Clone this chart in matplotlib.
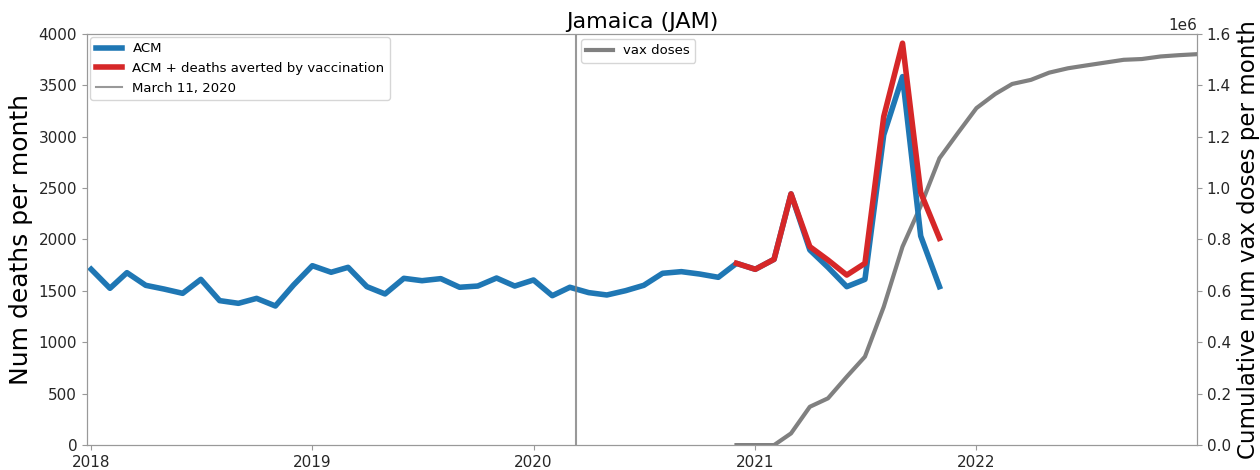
import pandas as pd
import matplotlib
matplotlib.use('Agg')
import matplotlib.pyplot as plt

# monthly all-cause mortality, Jan 2018 .. Nov 2021
acm = [1710, 1525, 1677, 1554, 1518, 1476, 1612, 1405, 1379, 1427, 1353, 1557,
       1745, 1681, 1729, 1541, 1470, 1622, 1599, 1619, 1535, 1547, 1625, 1547,
       1606, 1453, 1535, 1483, 1460, 1502, 1554, 1671, 1687, 1664, 1632, 1768,
       1710, 1807, 2443, 1898, 1729, 1541, 1612, 3017, 3584, 2034, 1541]
acm_dates = pd.date_range('2018-01-01', periods=len(acm), freq='MS')

# ACM + deaths averted, Dec 2020 .. Nov 2021
acm_averted = [1768, 1710, 1807, 2443, 1930, 1800, 1654, 1768, 3195, 3909, 2456, 2011]
averted_dates = pd.date_range('2020-12-01', periods=len(acm_averted), freq='MS')

# cumulative vaccine doses, Dec 2020 .. Jan 2023
vax = [0, 0, 0, 45500, 149000, 182000, 266000, 344000, 538000, 772000, 930000,
       1116000, 1213000, 1311000, 1366000, 1405000, 1421000, 1449000, 1466000,
       1477000, 1488000, 1499000, 1502000, 1512000, 1517000, 1521000]
vax_dates = pd.date_range('2020-12-01', periods=len(vax), freq='MS')

march11 = pd.Timestamp('2020-03-11')
x0, x1 = pd.Timestamp('2017-12-25'), pd.Timestamp('2022-12-31')

fig = plt.figure(figsize=(12.6, 4.7), dpi=100)
ax = fig.add_axes([0.069, 0.053, 0.881, 0.875])
ax2 = ax.twinx()

ax.plot(acm_dates, acm, color='tab:blue', lw=4, label='ACM')
ax.plot(averted_dates, acm_averted, color='tab:red', lw=4,
        label='ACM + deaths averted by vaccination')
ax.axvline(march11, color='gray', lw=1.5, alpha=0.8, label='March 11, 2020')
ax2.plot(vax_dates, vax, color='gray', lw=3, label='vax doses')

# keep the deaths lines on top of the vax line
ax.set_zorder(ax2.get_zorder() + 1)
ax.patch.set_visible(False)

ax.set_ylim(0, 4000)
ax2.set_ylim(0, 1.6e6)
ax.set_xlim(x0, x1)

ax.set_title('Jamaica (JAM)', fontsize=16, pad=4)
ax.set_ylabel('Num deaths per month', fontsize=18)
ax2.set_ylabel('Cumulative num vax doses per month', fontsize=16.5)

for a in (ax, ax2):
    a.tick_params(labelsize=11, colors='0.6', labelcolor='0.15')
    for s in a.spines.values():
        s.set_color('0.6')
ax2.yaxis.get_offset_text().set_fontsize(11)

ax.legend(loc='upper left', fontsize=9.5, borderaxespad=0.25)
xfrac = (march11 - x0) / (x1 - x0)
ax2.legend(loc='upper left', bbox_to_anchor=(xfrac, 1), fontsize=9.5,
           borderaxespad=0.4)

fig.savefig('out.png', dpi=100)
